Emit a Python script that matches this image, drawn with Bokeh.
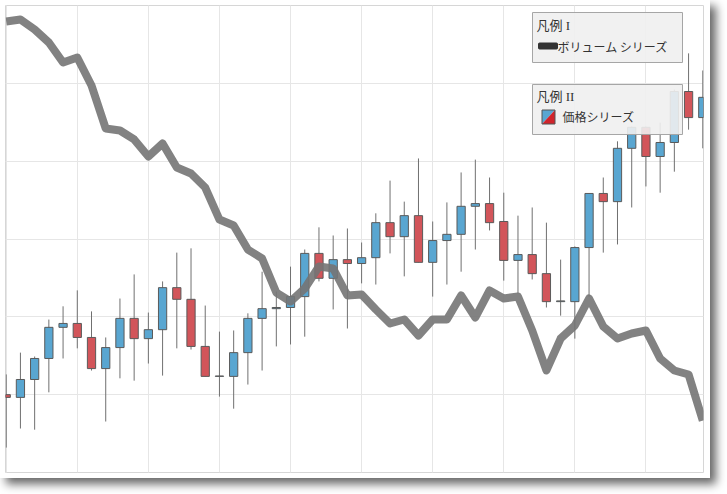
from bokeh.plotting import figure
from bokeh.models import (Range1d, Grid, SingleIntervalTicker, BoxAnnotation, Label,
                          PolyAnnotation, ColumnDataSource)
from bokeh.embed import file_html
from bokeh.resources import INLINE

# ---------------- data ----------------
index = list(range(50))
open_ = [20.0, 19.3, 23.9, 29.3, 37.3, 38.3, 34.7, 26.7, 32.1, 39.6,
         34.4, 36.7, 47.5, 44.5, 32.4, 24.7, 24.7, 30.8, 39.6, 42.1,
         42.4, 45.2, 56.3, 49.9, 54.7, 53.7, 55.2, 64.2, 60.6, 66.0,
         54.0, 59.6, 61.2, 68.4, 69.1, 64.5, 54.5, 56.0, 51.1, 43.9,
         43.9, 57.8, 71.7, 69.6, 83.3, 88.7, 81.2, 84.8, 97.9, 91.2]
high = [25.2, 30.8, 29.8, 39.3, 42.7, 46.8, 41.4, 34.7, 44.7, 50.9,
        41.1, 49.1, 56.5, 57.6, 42.9, 36.2, 36.5, 40.9, 51.6, 46.5,
        52.9, 57.3, 63.0, 60.9, 62.7, 59.1, 66.6, 75.0, 69.6, 80.7,
        64.5, 69.4, 77.1, 80.4, 75.8, 71.9, 66.0, 68.1, 64.2, 54.7,
        58.1, 71.7, 75.8, 85.1, 88.9, 88.9, 89.9, 98.4, 107.7, 103.3]
low = [6.4, 11.3, 11.0, 20.6, 29.3, 31.9, 26.2, 13.1, 24.2, 23.6,
       28.0, 24.9, 31.9, 31.6, 24.7, 19.5, 16.4, 22.6, 26.2, 32.4,
       32.9, 34.9, 49.1, 41.9, 37.0, 48.6, 48.3, 56.3, 50.4, 54.0,
       45.2, 48.3, 51.6, 57.3, 62.2, 49.3, 46.0, 49.6, 42.4, 40.3,
       34.4, 45.2, 56.5, 58.6, 68.1, 73.5, 71.9, 77.3, 88.1, 83.3]
close = [19.3, 23.9, 29.3, 37.3, 38.3, 34.7, 26.7, 32.1, 39.6, 34.4,
         36.7, 47.5, 44.5, 32.4, 24.7, 24.8, 30.8, 39.6, 42.1, 42.4,
         45.2, 56.3, 49.9, 54.7, 53.7, 55.2, 64.2, 60.6, 66.0, 54.0,
         59.6, 61.2, 68.4, 69.1, 64.2, 54.5, 56.0, 51.1, 43.9, 44.1,
         57.8, 71.7, 69.6, 83.3, 88.7, 81.2, 84.8, 97.9, 91.2, 96.4]
volume = [11589, 11640, 11383, 11049, 10535, 10664, 9944, 8839, 8788, 8557,
          8120, 8454, 7837, 7683, 7323, 6501, 6347, 5730, 5499, 4625,
          4394, 4728, 5293, 5242, 4548, 4574, 4188, 3829, 3931, 3520,
          3931, 3931, 4548, 3983, 4677, 4471, 4522, 3649, 2621, 3443,
          3777, 4471, 3752, 3443, 3572, 3649, 2929, 2621, 2518, 1336]

legend1_title = "凡例 I"
legend1_label = "ボリューム シリーズ"
legend2_title = "凡例 II"
legend2_label = "価格シリーズ"

# ---------------- layout ----------------
X_START, X_END = -0.05, 49.05
P_START, P_END = 0, 120
V_START, V_END = 0, 12000
FW, FH = 698, 467
ML, MT, MR, MB = 5, 5, 7, 6

UP = "#59a6d1"
DOWN = "#d2555a"
FONT = "Noto Sans CJK JP"
TITLE_FONT = "'Liberation Serif', 'Noto Sans CJK JP'"

p = figure(frame_width=FW, frame_height=FH,
           x_range=Range1d(X_START, X_END), y_range=Range1d(P_START, P_END),
           x_axis_location=None, y_axis_location=None,
           min_border_left=ML, min_border_right=MR, min_border_top=MT, min_border_bottom=MB,
           output_backend="svg", toolbar_location=None)
p.extra_y_ranges = {"vol": Range1d(V_START, V_END)}
p.background_fill_color = "white"
p.border_fill_color = "white"
p.outline_line_color = "#d6d6d6"
p.outline_line_width = 1
p.styles = {"box-shadow": "6px 6px 9px rgba(0,0,0,0.6)"}

p.add_layout(Grid(dimension=0, ticker=SingleIntervalTicker(interval=5),
                  grid_line_color="#e6e6e6", grid_line_width=1))
p.add_layout(Grid(dimension=1, ticker=SingleIntervalTicker(interval=20),
                  grid_line_color="#e6e6e6", grid_line_width=1))

up_idx = [i for i in index if close[i] >= open_[i]]
dn_idx = [i for i in index if close[i] < open_[i]]

src_all = ColumnDataSource(dict(x=index, high=high, low=low))
src_up = ColumnDataSource(dict(x=up_idx, top=[close[i] for i in up_idx], bottom=[open_[i] for i in up_idx]))
src_dn = ColumnDataSource(dict(x=dn_idx, top=[open_[i] for i in dn_idx], bottom=[close[i] for i in dn_idx]))

p.segment(x0="x", y0="high", x1="x", y1="low", source=src_all, line_color="#707070", line_width=1)
p.vbar(x="x", width=0.58, top="top", bottom="bottom", source=src_up,
       fill_color=UP, line_color="#5a5a5a", line_width=1)
p.vbar(x="x", width=0.58, top="top", bottom="bottom", source=src_dn,
       fill_color=DOWN, line_color="#5a5a5a", line_width=1)

p.line(index, volume, y_range_name="vol", line_color="#747474", line_alpha=0.9,
       line_width=8, line_join="round")

# ---------------- legends (drawn as annotations) ----------------
def dx(px):
    return X_START + (px - ML) / FW * (X_END - X_START)

def dy(py):
    return P_END - (py - MT) / FH * (P_END - P_START)

for (top, bottom) in [(12, 62), (84, 134)]:
    p.add_layout(BoxAnnotation(left=dx(532), right=dx(682), top=dy(top), bottom=dy(bottom),
                               fill_color="#efefef", fill_alpha=0.9,
                               line_color="#a6a6a6", line_width=1, line_alpha=1))

# legend I
p.add_layout(Label(x=dx(536), y=dy(25), text=legend1_title, text_font=TITLE_FONT,
                   text_font_size="13px", text_color="#333333", text_baseline="middle"))
p.add_layout(BoxAnnotation(left=dx(538), right=dx(557), top=dy(42.5), bottom=dy(48.5),
                           fill_color="#333333", fill_alpha=1, line_color="#333333",
                           line_alpha=1, border_radius=1))
p.add_layout(Label(x=dx(557), y=dy(46), text=legend1_label, text_font=FONT,
                   text_font_size="12px", text_color="#333333", text_baseline="middle"))

# legend II
p.add_layout(Label(x=dx(536), y=dy(96), text=legend2_title, text_font=TITLE_FONT,
                   text_font_size="13px", text_color="#333333", text_baseline="middle"))
ix0, ix1, iy0, iy1 = 541.5, 554.5, 109.5, 123.5
p.add_layout(PolyAnnotation(xs=[dx(ix0), dx(ix1), dx(ix0)], ys=[dy(iy0), dy(iy0), dy(iy1)],
                            fill_color=UP, fill_alpha=1, line_alpha=0))
p.add_layout(PolyAnnotation(xs=[dx(ix1), dx(ix1), dx(ix0)], ys=[dy(iy0), dy(iy1), dy(iy1)],
                            fill_color="#d0242c", fill_alpha=1, line_alpha=0))
p.add_layout(BoxAnnotation(left=dx(ix0), right=dx(ix1), top=dy(iy0), bottom=dy(iy1),
                           fill_alpha=0, line_color="#555555", line_width=1, line_alpha=1))
p.add_layout(Label(x=dx(562), y=dy(116), text=legend2_label, text_font=FONT,
                   text_font_size="12px", text_color="#333333", text_baseline="middle"))

open("out.html", "w").write(file_html(p, INLINE))
